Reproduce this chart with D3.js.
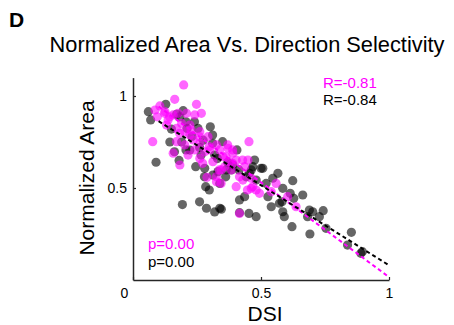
<!DOCTYPE html>
<html>
<head>
<meta charset="utf-8">
<script src="https://cdn.jsdelivr.net/npm/d3@7"></script>
<style>
  body { margin: 0; background: #fff; }
  svg { display: block; font-family: "Liberation Sans", Arial, sans-serif; }
</style>
</head>
<body>
<div id="chart"></div>
<script>
// black group (DSI, normalized area)
const blackDsi = [0.06,0.069,0.09,0.128,0.193,0.18,0.144,0.19,0.222,0.26,0.245,0.287,0.319,0.339,0.345,0.284,0.298,0.28,0.274,0.254,
  0.211,0.196,0.183,0.319,0.332,0.362,0.384,0.406,0.416,0.416,0.453,0.481,0.475,0.462,0.481,0.507,0.527,0.54,0.546,0.566,
  0.582,0.591,0.585,0.624,0.614,0.621,0.628,0.663,0.689,0.682,0.691,0.743,0.754,0.853,0.838,0.896,0.89,0.702,0.728,0.39,
  0.436,0.414,0.442,0.455,0.468,0.162,0.302,0.311,0.207,0.266,0.311,0.35,0.279,0.207,0.52,0.585,0.339,0.312,0.364,0.572,
  0.5,0.15,0.23,0.26,0.33,0.37,0.24,0.17];
const blackArea = [0.915,0.87,0.64,0.955,0.41,0.65,0.75,0.75,0.706,0.425,0.616,0.39,0.37,0.39,0.385,0.507,0.489,0.607,0.76,0.824,
  0.824,0.92,0.887,0.679,0.589,0.561,0.598,0.707,0.435,0.366,0.362,0.344,0.652,0.598,0.543,0.607,0.453,0.398,0.553,0.58,
  0.425,0.344,0.371,0.54,0.471,0.29,0.444,0.462,0.38,0.344,0.25,0.377,0.281,0.259,0.19,0.154,0.145,0.371,0.344,0.625,
  0.453,0.598,0.561,0.58,0.616,0.697,0.833,0.788,0.707,0.679,0.743,0.752,0.561,0.86,0.525,0.498,0.525,0.57,0.598,0.417,
  0.607,0.82,0.78,0.72,0.66,0.64,0.86,0.9];

// magenta group
const magentaDsi = [0.198,0.163,0.248,0.105,0.086,0.125,0.095,0.137,0.157,0.176,0.209,0.241,0.267,0.077,0.157,0.183,0.17,0.202,0.222,0.261,
  0.293,0.261,0.241,0.215,0.261,0.3,0.326,0.312,0.351,0.371,0.377,0.289,0.326,0.345,0.384,0.403,0.416,0.429,0.449,0.453,
  0.468,0.494,0.462,0.416,0.559,0.604,0.637,0.131,0.17,0.202,0.235,0.28,0.339,0.39,0.358,0.436,0.403,0.222,0.19,0.344,
  0.389,0.363,0.428,0.447,0.123,0.143,0.182,0.227,0.26,0.298,0.272,0.337,0.37,0.389,0.326,0.462,0.481,0.54];
const magentaArea = [1.06,0.982,0.955,0.946,0.924,0.915,0.887,0.87,0.897,0.906,0.906,0.897,0.906,0.752,0.689,0.625,0.824,0.806,0.788,0.806,
  0.779,0.743,0.707,0.679,0.661,0.707,0.734,0.643,0.67,0.716,0.643,0.558,0.561,0.598,0.598,0.507,0.561,0.543,0.652,0.752,
  0.507,0.471,0.553,0.362,0.525,0.453,0.398,0.842,0.752,0.734,0.761,0.697,0.707,0.689,0.616,0.616,0.652,0.842,0.851,0.525,
  0.634,0.67,0.652,0.489,0.906,0.887,0.797,0.815,0.779,0.725,0.634,0.598,0.734,0.707,0.534,0.498,0.489,0.48];

// linear fits: [intercept, slope], drawn over fitRange
const fitBlack = [0.95, -0.87];
const fitMagenta = [1.046, -1.03];
const fitRange = [0.1, 1];

const xTicks = [0, 0.5, 1];
const yTicks = [0.5, 1];
const statsMagenta = ["R=-0.81", "p=0.00"];
const statsBlack = ["R=-0.84", "p=0.00"];

const W = 454, H = 325;
const MAG = "#ff00ff", BLK = "#000000", AX = "#262626";

const svg = d3.select("#chart").append("svg")
    .attr("width", W)
    .attr("height", H);

const x = d3.scaleLinear().domain([0, 1]).range([133, 389]);
const y = d3.scaleLinear().domain([0, 1.1]).range([280, 77.6]);

//Panel letter and title
svg.append("text")
    .attr("x", 9).attr("y", 27)
    .attr("font-size", 21).attr("font-weight", "bold")
    .text("D");
svg.append("text")
    .attr("x", 247).attr("y", 52)
    .attr("text-anchor", "middle")
    .attr("font-size", 21.8)
    .text("Normalized Area Vs. Direction Selectivity");

//Scatter points
function drawDots(xs, ys, color) {
    svg.append("g").selectAll("circle")
        .data(d3.zip(xs, ys))
        .enter().append("circle")
        .attr("cx", d => x(d[0]))
        .attr("cy", d => y(d[1]))
        .attr("r", 4.6)
        .attr("fill", color)
        .attr("fill-opacity", 0.6);
}
drawDots(blackDsi, blackArea, BLK);
drawDots(magentaDsi, magentaArea, MAG);

//Fit lines
function drawFit(fit, color) {
    const line = d3.line()
        .x(d => x(d))
        .y(d => y(fit[0] + fit[1] * d));
    svg.append("path")
        .datum(fitRange)
        .attr("fill", "none")
        .attr("stroke", color)
        .attr("stroke-width", 2)
        .attr("stroke-dasharray", "4,3")
        .attr("d", line);
}
drawFit(fitMagenta, MAG);
drawFit(fitBlack, BLK);

//Axes (ticks pointing inward)
const xAxis = svg.append("g")
    .attr("transform", "translate(0,280)")
    .call(d3.axisBottom(x).tickValues(xTicks).tickFormat(d3.format("")).tickSizeInner(-3).tickSizeOuter(0).tickPadding(8));
xAxis.selectAll("text").filter(d => d === 0).attr("dx", -9);

const yAxis = svg.append("g")
    .attr("transform", "translate(133,0)")
    .call(d3.axisLeft(y).tickValues(yTicks).tickFormat(d3.format("")).tickSizeInner(-3).tickSizeOuter(0).tickPadding(6));

[xAxis, yAxis].forEach(a => {
    a.select(".domain").attr("stroke", AX).attr("stroke-width", 1.5);
    a.selectAll(".tick line").attr("stroke", AX).attr("stroke-width", 1.2);
    a.selectAll("text").attr("fill", "#000").attr("font-size", 14)
        .attr("font-family", "Liberation Sans, Arial, sans-serif");
});

//Axis labels
svg.append("text")
    .attr("x", 265).attr("y", 321)
    .attr("text-anchor", "middle")
    .attr("font-size", 21)
    .text("DSI");
svg.append("text")
    .attr("transform", "translate(94,178) rotate(-90)")
    .attr("text-anchor", "middle")
    .attr("font-size", 21)
    .text("Normalized Area");

//Stats text
svg.append("text").attr("x", 323).attr("y", 88).attr("font-size", 15).attr("fill", MAG).text(statsMagenta[0]);
svg.append("text").attr("x", 323).attr("y", 105).attr("font-size", 15).attr("fill", BLK).text(statsBlack[0]);
svg.append("text").attr("x", 148).attr("y", 249).attr("font-size", 15).attr("fill", MAG).text(statsMagenta[1]);
svg.append("text").attr("x", 148).attr("y", 267).attr("font-size", 15).attr("fill", BLK).text(statsBlack[1]);
</script>
</body>
</html>
